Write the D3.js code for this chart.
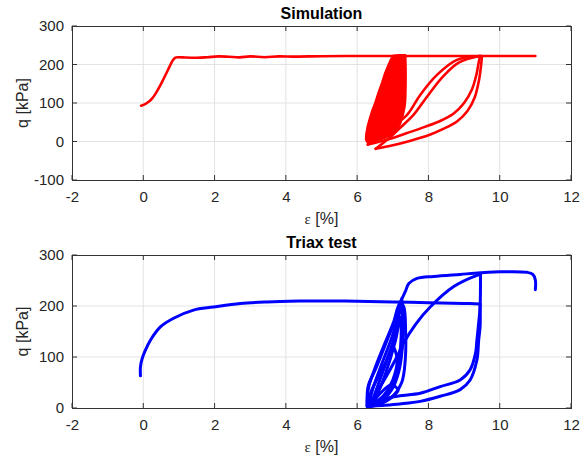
<!DOCTYPE html>
<html>
<head>
<meta charset="utf-8">
<script src="https://cdn.jsdelivr.net/npm/d3@7"></script>
<style>
  body { margin: 0; background: #fff; }
  text { font-family: "Liberation Sans", Arial, sans-serif; fill: #262626; }
</style>
</head>
<body>
<svg id="chart" width="586" height="461"></svg>
<script>
// axis ticks
var xTicks = [-2, 0, 2, 4, 6, 8, 10, 12];
var simYTicks = [-100, 0, 100, 200, 300];
var triYTicks = [0, 100, 200, 300];

// Simulation (red), [strain %, q kPa]
var simLoading = [[-0.06,93],[0.05,97],[0.15,103],[0.25,112],[0.35,125],[0.45,141],[0.55,159],[0.65,178],[0.75,197],
  [0.83,211],[0.9,218],[1.0,219],
  [1.2,218],[1.5,217.5],[1.8,219],[2.1,221],[2.4,220],[2.7,218.5],[3.0,221],[3.4,219],[3.8,221],[4.2,220.5],[5.0,221.5],
  [6.0,222],[7.0,222],[8.0,222],[9.0,222],[10.0,222],[11.0,222]];
var simUnloadA = [[9.45,222],[9.42,210],[9.35,175],[9.22,135],[9.0,100],[8.7,72],[8.3,52],[7.9,38],[7.4,22],[6.88,6],[6.3,-8]];
var simUnloadB = [[9.5,222],[9.48,200],[9.42,160],[9.3,115],[9.1,80],[8.8,52],[8.4,32],[8.0,16],[7.5,2],[7.0,-10],[6.52,-19]];
var simReloadA = [[6.3,-8],[6.6,12],[7.0,40],[7.4,69],[7.77,121],[8.24,173],[8.8,212],[9.45,222]];
var simReloadB = [[6.52,-19],[6.85,5],[7.2,35],[7.58,69],[7.95,115],[8.4,168],[8.85,205],[9.45,222]];
var simCycles = [[7.02,223],[7.2,224],[7.35,224],[7.36,190],[7.36,150],[7.35,110],[7.33,91],[7.27,65],[7.2,45],[7.08,28],
  [6.93,17],[6.75,9],[6.56,4],[6.4,0],[6.3,-3],[6.25,5],[6.26,20],[6.3,40],[6.36,60],[6.42,78],[6.51,100],[6.6,126],
  [6.7,152],[6.79,178],[6.88,198],[6.95,213]];

// Triax test (blue)
var triLoading = [[-0.08,63],[-0.08,80],[-0.04,95],[0.05,112],[0.2,133],[0.48,159],[0.85,176],[1.41,192],[1.97,198],[2.72,205],
  [3.47,208],[4.41,209.6],[5.0,210],[6.0,209.5],[7.0,208],[8.0,206.5],[9.0,205],[9.45,204]];
var triUnload1 = [[9.45,204],[9.45,160],[9.41,133],[9.36,94],[9.17,55],[8.89,36],[8.33,23],[7.77,13],[7.2,8],[6.7,5],[6.3,3]];
var triUnload2 = [[9.46,262],[9.45,200],[9.4,160],[9.36,133],[9.32,107],[9.17,75],[8.89,55],[8.33,42],[7.77,29],[7.2,24],[6.9,20],[6.5,8]];
var triReload1 = [[6.37,10],[6.8,60],[7.1,98],[7.3,127],[7.65,165],[8.05,198],[8.71,238],[9.36,260],[9.46,262]];
var triCycleA = [[6.28,3],[6.32,40],[6.5,78],[6.75,122],[7.02,168],[7.2,205],[7.3,200],[7.36,150],[7.35,95],[7.25,50],[6.95,20],[6.55,6],[6.28,3]];
var triCycleB = [[6.32,4],[6.45,40],[6.7,88],[6.97,138],[7.18,188],[7.25,215],[7.29,180],[7.27,120],[7.17,72],[6.97,36],[6.62,11],[6.32,4]];
var triCycleC = [[6.38,5],[6.6,48],[6.86,98],[7.08,148],[7.24,200],[7.28,160],[7.22,100],[7.03,52],[6.72,16],[6.38,5]];
var triCycleD = [[6.45,6],[6.8,68],[7.06,128],[7.22,178],[7.22,122],[7.08,62],[6.82,22],[6.45,6]];
var triCycleE = [[6.3,2],[6.38,30],[6.55,55],[6.8,90],[7.0,120],[7.12,95],[7.0,55],[6.75,25],[6.45,8],[6.3,2]];
var triCycleF = [[6.35,3],[6.6,25],[6.95,45],[7.15,35],[6.9,18],[6.55,6],[6.35,3]];
var triReload2 = [[6.28,3],[6.31,43],[6.51,75],[6.7,108],[6.88,140],[7.07,172],[7.2,205],[7.35,228],[7.45,244],[7.68,254],
  [8.15,258],[8.89,262],[9.46,265],[10.02,267],[10.77,266],[10.93,262],[11.0,251],[11.0,232]];

var svg = d3.select("#chart");

function panel(opts) {
  var x = d3.scaleLinear().domain([-2, 12]).range([opts.left, opts.right]);
  var y = d3.scaleLinear().domain(opts.yDomain).range([opts.bottom, opts.top]);
  var g = svg.append("g");
  var w = opts.right - opts.left, h = opts.bottom - opts.top;

  //grid
  g.append("g").selectAll("line").data(xTicks.slice(1, -1)).enter().append("line")
    .attr("x1", x).attr("x2", x).attr("y1", opts.top).attr("y2", opts.bottom)
    .style("stroke", "#e3e3e3").style("stroke-width", 1);
  g.append("g").selectAll("line").data(opts.yTicks.slice(1, -1)).enter().append("line")
    .attr("y1", y).attr("y2", y).attr("x1", opts.left).attr("x2", opts.right)
    .style("stroke", "#e3e3e3").style("stroke-width", 1);

  //data
  g.append("clipPath").attr("id", opts.id).append("rect")
    .attr("x", opts.left).attr("y", opts.top).attr("width", w).attr("height", h);
  var lines = g.append("g").attr("clip-path", "url(#" + opts.id + ")");
  var px = function(d) { return x(d[0]); }, py = function(d) { return y(d[1]); };
  var line = d3.line().x(px).y(py).curve(d3.curveCatmullRom.alpha(0.5));
  if (opts.fill) {
    lines.append("path").attr("d", d3.line().x(px).y(py).curve(d3.curveLinearClosed)(opts.fill))
      .style("fill", opts.color).style("stroke", opts.color).style("stroke-width", 2.5)
      .style("stroke-linejoin", "round");
  }
  lines.selectAll("path.s").data(opts.series).enter().append("path").attr("class", "s")
    .attr("d", line)
    .style("fill", "none").style("stroke", opts.color).style("stroke-width", opts.sw)
    .style("stroke-linejoin", "round").style("stroke-linecap", "round");

  //axes
  var fmt = function(d) { return String(d); };
  var ax = d3.axisBottom(x).tickValues(xTicks).tickFormat(fmt).tickSize(0).tickPadding(11);
  g.append("g").attr("transform", "translate(0," + opts.bottom + ")").call(ax)
    .call(function(s) { s.select(".domain").remove(); s.selectAll("text").style("font-size", "15px").attr("dy", "0.71em").attr("fill", "#262626"); });
  var ay = d3.axisLeft(y).tickValues(opts.yTicks).tickFormat(fmt).tickSize(0).tickPadding(8);
  g.append("g").attr("transform", "translate(" + opts.left + ",0)").call(ay)
    .call(function(s) { s.select(".domain").remove(); s.selectAll("text").style("font-size", "15px").attr("fill", "#262626"); });

  //tick marks inward on all sides
  var tl = 5;
  var tk = g.append("g").style("stroke", "#333").style("stroke-width", 1);
  xTicks.forEach(function(t) {
    tk.append("line").attr("x1", x(t)).attr("x2", x(t)).attr("y1", opts.bottom).attr("y2", opts.bottom - tl);
    tk.append("line").attr("x1", x(t)).attr("x2", x(t)).attr("y1", opts.top).attr("y2", opts.top + tl);
  });
  opts.yTicks.forEach(function(t) {
    tk.append("line").attr("y1", y(t)).attr("y2", y(t)).attr("x1", opts.left).attr("x2", opts.left + tl);
    tk.append("line").attr("y1", y(t)).attr("y2", y(t)).attr("x1", opts.right).attr("x2", opts.right - tl);
  });
  g.append("rect").attr("x", opts.left + 0.5).attr("y", opts.top + 0.5).attr("width", w).attr("height", h)
    .style("fill", "none").style("stroke", "#333").style("stroke-width", 1);

  //labels
  var cx = (opts.left + opts.right) / 2;
  g.append("text").attr("x", cx).attr("y", opts.top - 7).attr("text-anchor", "middle")
    .style("font-size", "16px").style("font-weight", "bold").style("fill", "#000").text(opts.title);
  var xl = g.append("text").attr("x", cx).attr("y", opts.bottom + 44).attr("text-anchor", "middle").style("font-size", "16px");
  xl.append("tspan").style("font-family", "'Liberation Serif', serif").style("font-size", "15px").text("\u03B5");
  xl.append("tspan").text(" [%]");
  g.append("text").attr("transform", "translate(28," + ((opts.top + opts.bottom) / 2) + ") rotate(-90)")
    .attr("text-anchor", "middle").style("font-size", "16px").text("q [kPa]");
}

panel({ id: "c1", left: 72, right: 571, top: 26, bottom: 180, yDomain: [-100, 300], yTicks: simYTicks,
  color: "#ff0000", title: "Simulation", fill: simCycles, sw: 2.6,
  series: [simLoading, simUnloadA, simUnloadB, simReloadA, simReloadB] });
panel({ id: "c2", left: 72, right: 571, top: 255, bottom: 408, yDomain: [0, 300], yTicks: triYTicks,
  color: "#0000ff", title: "Triax test", sw: 3,
  series: [triLoading, triUnload1, triUnload2, triReload1, triCycleA, triCycleB, triCycleC, triCycleD, triCycleE, triCycleF, triReload2] });
</script>
</body>
</html>
